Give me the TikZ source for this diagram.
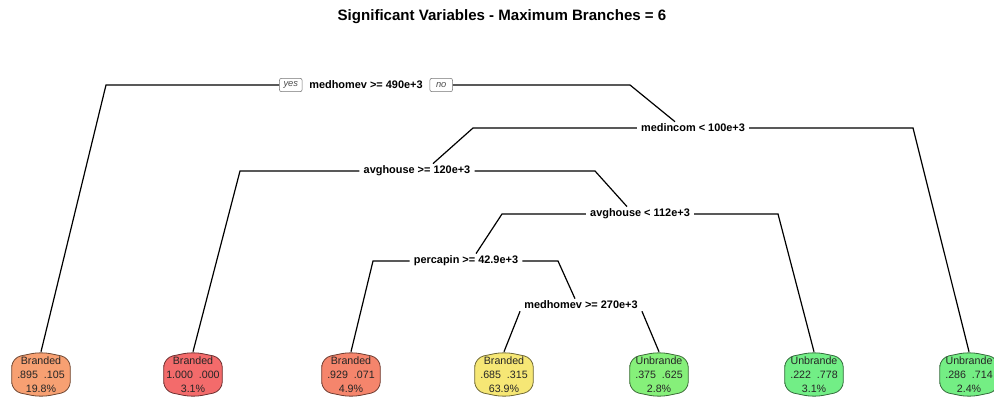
\documentclass[tikz,border=0pt]{standalone}
\usepackage{fontspec}
\setmainfont{Liberation Sans}
\usetikzlibrary{positioning,calc,backgrounds}
\definecolor{LeafOrange}{HTML}{F7A072}
\definecolor{LeafRed}{HTML}{F36B6B}
\definecolor{LeafSalmon}{HTML}{F5856C}
\definecolor{LeafYellow}{HTML}{F6E775}
\definecolor{LeafLime}{HTML}{86F07A}
\definecolor{LeafGreen}{HTML}{72EE86}
\definecolor{LeafMint}{HTML}{74EE84}
\tikzset{
  % split label
  SP/.style={font=\fontsize{8.2}{10}\selectfont\bfseries,inner xsep=3pt,inner ysep=1.5pt},
  % yes / no tag
  TG/.style={draw=black!55,rounded corners=1.5pt,
             font=\fontsize{7}{8}\selectfont\itshape,text=black!70,
             inner xsep=2pt,inner ysep=1pt,minimum width=17pt,minimum height=10pt},
  % leaf text
  LF/.style={minimum width=43.5pt,minimum height=33.75pt,inner sep=0pt,align=center,
             font=\fontsize{8}{10.5}\selectfont,text=black!85},
  % leaf outline
  LS/.style={draw=#1!45!black,fill=#1,line width=0.6pt,rounded corners=7pt},
  % branch
  br/.style={line width=0.9pt,black}
}

\begin{document}
\begin{tikzpicture}[x=0.75pt,y=-0.75pt]
  \useasboundingbox (0,0) rectangle (994,398);
  \node[font=\fontsize{11.3}{13}\selectfont\bfseries] (title) at (502,17) {Significant Variables - Maximum Branches = 6};

  % splits
  \node[SP] (root) at (366,85)  {medhomev >= 490e+3};
  \node[TG,left=2pt of root]  (yes) {yes};
  \node[TG,right=2pt of root] (no)  {no};
  \node[SP] (mi)  at (693,128) {medincom < 100e+3};
  \node[SP] (ah1) at (417,171) {avghouse >= 120e+3};
  \node[SP] (ah2) at (640,214) {avghouse < 112e+3};
  \node[SP] (pc)  at (466,261) {percapin >= 42.9e+3};
  \node[SP] (mh)  at (581,305) {medhomev >= 270e+3};

  % leaves
  \node[LF] (lfA) at (41,374.5)  {Branded\\.895\ \ .105\\19.8\%};
  \node[LF] (lfB) at (193,374.5) {Branded\\1.000\ \ .000\\3.1\%};
  \node[LF] (lfC) at (351,374.5) {Branded\\.929\ \ .071\\4.9\%};
  \node[LF] (lfD) at (504,374.5) {Branded\\.685\ \ .315\\63.9\%};
  \node[LF] (lfE) at (659,374.5) {Unbrande\\.375\ \ .625\\2.8\%};
  \node[LF] (lfF) at (814,374.5) {Unbrande\\.222\ \ .778\\3.1\%};
  \node[LF] (lfG) at (969,374.5) {Unbrande\\.286\ \ .714\\2.4\%};

  \begin{scope}[on background layer]
    \foreach \n/\c in {lfA/LeafOrange,lfB/LeafRed,lfC/LeafSalmon,lfD/LeafYellow,
                       lfE/LeafLime,lfF/LeafGreen,lfG/LeafMint}
      \draw[LS=\c] (\n.west) -- ($(\n.north west)+(0,6)$) -- (\n.north)
        -- ($(\n.north east)+(0,6)$) -- ($(\n.south east)+(0,-6)$) -- (\n.south)
        -- ($(\n.south west)+(0,-6)$) -- cycle;
  \end{scope}

  % branches
  \draw[br] (yes.west) -- (106,85) -- (lfA.north);
  \draw[br] (no.east) -- (630,85) -- ($(mi.north)+(-18,0)$);
  \draw[br] (mi.west) -- (473,128) -- ($(ah1.north)+(16,0)$);
  \draw[br] (mi.east) -- (913,128) -- (lfG.north);
  \draw[br] (ah1.west) -- (240,171) -- (lfB.north);
  \draw[br] (ah1.east) -- (595,171) -- ($(ah2.north)+(-13,0)$);
  \draw[br] (ah2.west) -- (502,214) -- ($(pc.north)+(10,0)$);
  \draw[br] (ah2.east) -- (778,214) -- (lfF.north);
  \draw[br] (pc.west) -- (373,261) -- (lfC.north);
  \draw[br] (pc.east) -- (558,261) -- ($(mh.north)+(-6,0)$);
  \draw[br] (mh.south west) -- (lfD.north);
  \draw[br] (mh.south east) -- (lfE.north);
\end{tikzpicture}
\end{document}
